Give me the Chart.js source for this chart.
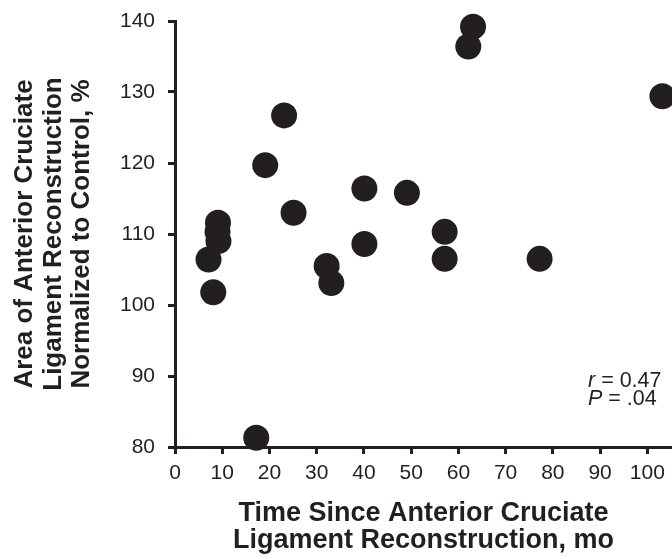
<!DOCTYPE html>
<html>
<head>
<meta charset="utf-8">
<script src="https://cdn.jsdelivr.net/npm/chart.js@4/dist/chart.umd.min.js"></script>
<style>
html,body{margin:0;padding:0;background:#fff;overflow:hidden}
#wrap{width:672px;height:559px;position:relative}
</style>
</head>
<body>
<div id="wrap"><canvas id="c" width="672" height="559"></canvas></div>
<script>
// ---- data ----
const monthsSinceACLR = [7.1, 8.1, 9.1, 9.0, 9.2, 17.2, 19.1, 23.1, 25.1, 32.1, 33.1, 40.1, 40.1, 49.1, 57.1, 57.1, 62.1, 63.1, 77.2, 103.2];
const areaNormalized  = [106.4, 101.8, 111.6, 110.3, 109.0, 81.3, 119.7, 126.7, 113.0, 105.5, 103.1, 116.4, 108.6, 115.8, 110.3, 106.5, 136.4, 139.2, 106.5, 129.4];
const xTickValues = [0, 10, 20, 30, 40, 50, 60, 70, 80, 90, 100];
const yTickValues = [80, 90, 100, 110, 120, 130, 140];
const xTitle = ['Time Since Anterior Cruciate', 'Ligament Reconstruction, mo'];
const yTitle = ['Area of Anterior Cruciate', 'Ligament Reconstruction', 'Normalized to Control, %'];
const statsLines = [['r', ' = 0.47'], ['P', ' = .04']];

const INK = '#231f20';
const FAMILY = '"Liberation Sans", Arial, Helvetica, sans-serif';

const points = monthsSinceACLR.map((m, i) => ({x: m, y: areaNormalized[i]}));

const statsPlugin = {
  id: 'stats',
  afterDraw(chart) {
    const ctx = chart.ctx;
    ctx.save();
    ctx.fillStyle = INK;
    ctx.textBaseline = 'alphabetic';
    ctx.textAlign = 'left';
    const x0 = 588;
    const baselines = [387, 405];
    statsLines.forEach((parts, i) => {
      ctx.font = 'italic 21.5px ' + FAMILY;
      ctx.fillText(parts[0], x0, baselines[i]);
      const w = ctx.measureText(parts[0]).width;
      ctx.font = '21.5px ' + FAMILY;
      ctx.fillText(parts[1], x0 + w, baselines[i]);
    });
    ctx.restore();
  }
};

new Chart(document.getElementById('c'), {
  type: 'scatter',
  data: {
    datasets: [{
      data: points,
      pointRadius: 13,
      pointHoverRadius: 13,
      pointBackgroundColor: INK,
      pointBorderWidth: 0,
      borderColor: INK,
      clip: false
    }]
  },
  options: {
    responsive: false,
    animation: false,
    devicePixelRatio: 1,
    layout: {autoPadding: false, padding: {top: 21, left: 0, right: 0, bottom: 0}},
    plugins: {legend: {display: false}, tooltip: {enabled: false}},
    events: [],
    scales: {
      x: {
        type: 'linear',
        min: 0,
        max: 105.23,
        afterBuildTicks: (s) => { s.ticks = xTickValues.map(v => ({value: v})); },
        afterFit: (s) => { s.height = 112; s.paddingLeft = 0; s.paddingRight = 0; },
        border: {display: true, color: INK, width: 3},
        grid: {display: true, drawOnChartArea: false, drawTicks: true, tickLength: 7, color: INK, lineWidth: 3},
        ticks: {color: INK, font: {size: 21, family: FAMILY}, padding: 7, maxRotation: 0, autoSkip: false},
        title: {display: true, text: xTitle, color: INK,
          font: {size: 27, weight: 'bold', family: FAMILY, lineHeight: 1.0},
          padding: {top: 0, bottom: 4.5}}
      },
      y: {
        type: 'linear',
        min: 80,
        max: 140,
        afterBuildTicks: (s) => { s.ticks = yTickValues.map(v => ({value: v})); },
        afterFit: (s) => { s.width = 175; s.paddingTop = 0; s.paddingBottom = 0; },
        border: {display: true, color: INK, width: 3},
        grid: {display: true, drawOnChartArea: false, drawTicks: true, tickLength: 7, color: INK, lineWidth: 3},
        ticks: {color: INK, font: {size: 21, family: FAMILY}, padding: 13},
        title: {display: true, text: yTitle, color: INK,
          font: {size: 26, weight: 'bold', family: FAMILY, lineHeight: 1.1},
          padding: {top: 10.7, bottom: 0}}
      }
    }
  },
  plugins: [statsPlugin]
});
</script>
</body>
</html>
